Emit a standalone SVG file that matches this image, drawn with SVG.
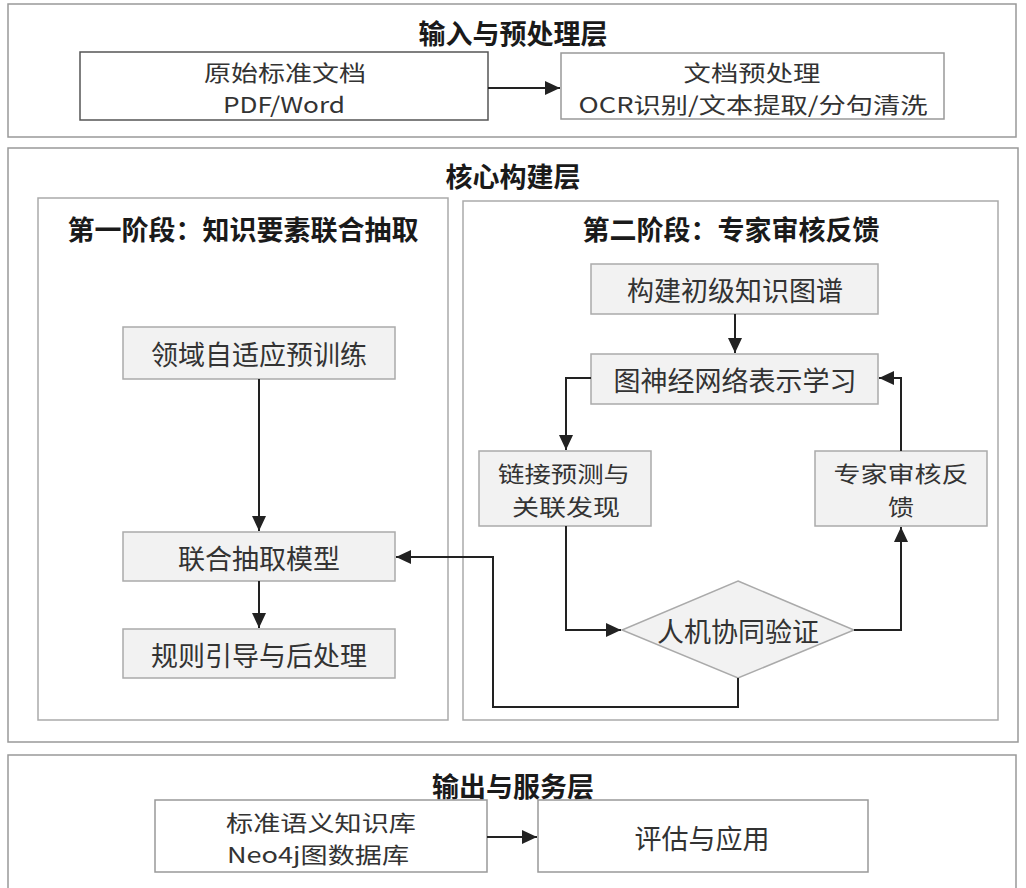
<svg xmlns="http://www.w3.org/2000/svg" width="1026" height="888" viewBox="0 0 1026 888">
<style>
text{font-family:"Noto Sans CJK SC","Noto Sans",sans-serif;text-anchor:middle;dominant-baseline:central;}
.t{font-size:27px;fill:#333;}
.s{font-size:22px;fill:#333;}
.h{font-size:27px;font-weight:bold;fill:#1a1a1a;}
.layer{fill:#fff;stroke:#999;stroke-width:1.5;}
.stage{fill:#fff;stroke:#aaa;stroke-width:1.5;}
.nw{fill:#fff;stroke:#999;stroke-width:1.5;}
.ng{fill:#f2f2f2;stroke:#aaa;stroke-width:1.5;}
.c{fill:none;stroke:#222;stroke-width:2;marker-end:url(#ah);}
</style>
<defs>
<marker id="ah" markerUnits="userSpaceOnUse" markerWidth="16" markerHeight="16" viewBox="0 0 16 16" refX="15" refY="8" orient="auto">
<path d="M0,1 L15,8 L0,15 Z" fill="#222"/>
</marker>
</defs>
<rect width="1026" height="888" fill="#fff"/>
<g id="layer-input">
<rect class="layer" x="8" y="4" width="1008" height="133"/>
<text class="h" x="513" y="32">输入与预处理层</text>
</g>
<g id="node-raw">
<rect class="nw" x="80" y="52" width="408" height="68" style="stroke:#555"/>
<text class="s" x="285" y="71" textLength="162" lengthAdjust="spacingAndGlyphs">原始标准文档</text>
<text class="s" x="284" y="103" textLength="122" lengthAdjust="spacingAndGlyphs">PDF/Word</text>
</g>
<g id="node-pre">
<rect class="nw" x="561" y="53" width="383" height="66"/>
<text class="s" x="752" y="71" textLength="137" lengthAdjust="spacingAndGlyphs">文档预处理</text>
<text class="s" x="753" y="103" textLength="349" lengthAdjust="spacingAndGlyphs">OCR识别/文本提取/分句清洗</text>
</g>
<g id="layer-core">
<rect class="layer" x="8" y="148" width="1010" height="594"/>
<text class="h" x="513" y="175">核心构建层</text>
</g>
<g id="stage1">
<rect class="stage" x="38" y="198" width="410" height="522"/>
<text class="h" x="243" y="228">第一阶段：知识要素联合抽取</text>
</g>
<g id="stage2">
<rect class="stage" x="463" y="201" width="535" height="519"/>
<text class="h" x="731" y="228">第二阶段：专家审核反馈</text>
</g>
<g id="node-pretrain">
<rect class="ng" x="123" y="327" width="272" height="52"/>
<text class="t" x="259" y="353">领域自适应预训练</text>
</g>
<g id="node-joint">
<rect class="ng" x="123" y="532" width="272" height="49"/>
<text class="t" x="259" y="557">联合抽取模型</text>
</g>
<g id="node-rule">
<rect class="ng" x="123" y="629" width="272" height="49"/>
<text class="t" x="259" y="654">规则引导与后处理</text>
</g>
<g id="node-kg">
<rect class="ng" x="591" y="264" width="287" height="50"/>
<text class="t" x="735" y="289">构建初级知识图谱</text>
</g>
<g id="node-gnn">
<rect class="ng" x="591" y="354" width="287" height="50"/>
<text class="t" x="735" y="379">图神经网络表示学习</text>
</g>
<g id="node-link">
<rect class="ng" x="479" y="451" width="172" height="75"/>
<text class="s" x="564" y="472" textLength="132" lengthAdjust="spacingAndGlyphs">链接预测与</text>
<text class="s" x="566" y="505" textLength="108" lengthAdjust="spacingAndGlyphs">关联发现</text>
</g>
<g id="node-expert">
<rect class="ng" x="815" y="451" width="172" height="75"/>
<text class="s" x="901" y="472" textLength="135" lengthAdjust="spacingAndGlyphs">专家审核反</text>
<text class="s" x="901" y="505" textLength="26" lengthAdjust="spacingAndGlyphs">馈</text>
</g>
<g id="node-verify">
<polygon class="ng" points="738,581 854,630 738,678 622,630"/>
<text class="t" x="738" y="630">人机协同验证</text>
</g>
<g id="layer-output">
<rect class="layer" x="8" y="755" width="1008" height="150"/>
<text class="h" x="513" y="785">输出与服务层</text>
</g>
<g id="node-kb">
<rect class="nw" x="155" y="800" width="332" height="72"/>
<text class="s" x="321" y="821" textLength="190" lengthAdjust="spacingAndGlyphs">标准语义知识库</text>
<text class="s" x="318" y="853" textLength="182" lengthAdjust="spacingAndGlyphs">Neo4j图数据库</text>
</g>
<g id="node-eval">
<rect class="nw" x="538" y="800" width="330" height="72"/>
<text class="t" x="702" y="837">评估与应用</text>
</g>
<g id="connectors">
<path class="c" d="M488,88 H560"/>
<path class="c" d="M259,379 V531"/>
<path class="c" d="M259,581 V628"/>
<path class="c" d="M735,314 V353"/>
<path class="c" d="M591,378 H566 V450"/>
<path class="c" d="M566,526 V630 H621"/>
<path class="c" d="M854,630 H901 V527"/>
<path class="c" d="M901,451 V378 H879"/>
<path class="c" d="M738,678 V707 H493 V557 H396"/>
<path class="c" d="M487,837 H537"/>
</g>
</svg>
